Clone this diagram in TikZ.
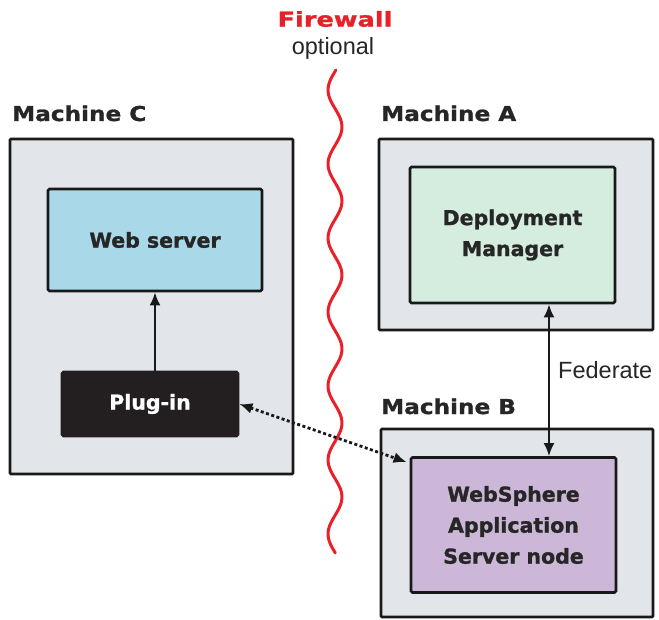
\documentclass[tikz,border=0pt]{standalone}
\usepackage{fontspec}
\setmainfont{Liberation Sans}
\newfontfamily\boxfont[BoldFeatures={FakeBold=1.2}]{DejaVu Sans}
\newfontfamily\machfont[FakeStretch=1.13,BoldFeatures={FakeBold=1.2}]{DejaVu Sans}
\newfontfamily\firefont[FakeStretch=1.25,BoldFeatures={FakeBold=1.2}]{DejaVu Sans}
\usetikzlibrary{arrows.meta,positioning}
\definecolor{machfill}{HTML}{E2E5E9}
\definecolor{webfill}{HTML}{A9D9E8}
\definecolor{dmfill}{HTML}{D4EDDE}
\definecolor{wasfill}{HTML}{CDB7D9}
\definecolor{plugfill}{HTML}{231F20}
\definecolor{firered}{HTML}{E8202A}
\tikzset{
  machine/.style={draw=black!90, line width=2.8pt, fill=machfill, rounded corners=1pt},
  inbox/.style={draw=black!90, line width=2.8pt, rounded corners=1.5pt, align=center, inner sep=0pt, text=black!85, font=\boxfont\bfseries\fontsize{20.5}{31}\selectfont},
  mlabel/.style={anchor=base west, inner sep=0pt, text=black!85, font=\machfont\bfseries\fontsize{20.5}{24}\selectfont},
  plain/.style={inner sep=0pt, text=black!85, font=\fontsize{23.5}{28}\selectfont},
  link/.style={draw=black!90, line width=2pt, {Latex[length=13pt,width=11pt]}-{Latex[length=13pt,width=11pt]}}
}

\begin{document}
\begin{tikzpicture}[x=1pt,y=-1pt]
\useasboundingbox (0,0) rectangle (659,620);

\node (mC) at (151.5,306.5) [machine, minimum width=283pt, minimum height=335pt] {};
\node (mA) at (516,234.5) [machine, minimum width=274pt, minimum height=191pt] {};
\node (mB) at (517,523) [machine, minimum width=272pt, minimum height=188pt] {};

\foreach \m/\x/\y in {C/12/121, A/381/121, B/381/414} {
\node (l\m) at (\x,\y) [mlabel] {Machine \m};
}

\node (ws) at (155,240) [inbox, fill=webfill, minimum width=214pt, minimum height=102pt] {Web server};
\node (pl) at (150,404) [inbox, fill=plugfill, draw=plugfill, text=white, minimum width=176pt, minimum height=64pt] {Plug-in};
\node (dm) at (512.5,235) [inbox, fill=dmfill, minimum width=205pt, minimum height=136pt] {Deployment\\Manager};
\node (was) at (513.5,525) [inbox, fill=wasfill, minimum width=205pt, minimum height=135pt] {WebSphere\\Application\\Server node};

\node (fw) at (335,19) [inner sep=0pt, text=firered, font=\firefont\bfseries\fontsize{20.5}{24}\selectfont] {Firewall};
\node (opt) at (333,48) [plain] {optional};
\node (fed) at (558,370) [plain, anchor=west] {Federate};

\draw[firered, line width=3pt, line cap=round] plot[domain=70:553, samples=160, smooth, variable=\t] ({335-7*cos(4.865*(\t-90))}, \t);

\coordinate (wasin) at ([shift={(-3,6)}]was.north west);

\draw[link, {}-{Latex[length=13pt,width=11pt]}] (ws.south |- pl.north) -- (ws.south);
\draw[link] ([xshift=36.5pt]dm.south) -- ([xshift=36.5pt]dm.south |- was.north);
\draw[link, line width=2.8pt, dash pattern=on 3pt off 2.5pt] (pl.east) -- (wasin);
\end{tikzpicture}
\end{document}
